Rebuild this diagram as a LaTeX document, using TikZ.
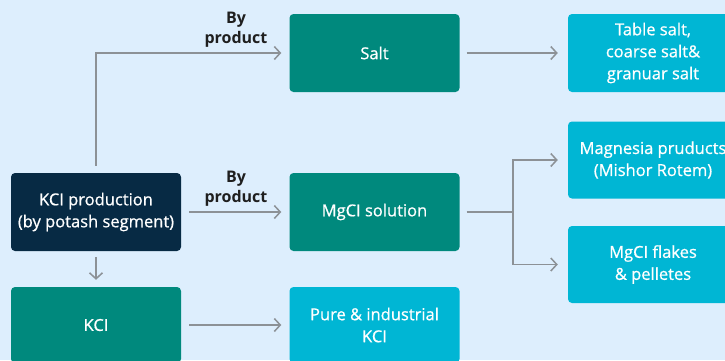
\documentclass[tikz,border=0pt]{standalone}
\usepackage{fontspec}
\setmainfont{Open Sans}
\newfontfamily\boxfont{Open Sans}[FakeBold=0.7]
\usetikzlibrary{arrows.meta}
\definecolor{bg}{HTML}{DDEEFD}
\definecolor{navy}{HTML}{072A44}
\definecolor{teal}{HTML}{00897D}
\definecolor{cyanbox}{HTML}{00B6D4}
\definecolor{arrowgray}{HTML}{8C9196}
\tikzset{
  box/.style={rounded corners=4pt, minimum width=170pt, minimum height=78pt, inner sep=0pt,
    text=white, align=center, font=\boxfont\fontsize{16.5}{22}\selectfont},
  navybox/.style={box, fill=navy},
  tealbox/.style={box, fill=teal},
  cyanb/.style={box, fill=cyanbox},
  conn/.style={draw=arrowgray, line width=1.5pt, -{Straight Barb[length=6pt,width=13pt,line width=1.5pt]}},
  plain/.style={draw=arrowgray, line width=1.5pt},
  lbl/.style={font=\fontsize{16}{20}\selectfont\bfseries, align=center, text=black!88}
}
\begin{document}
\begin{tikzpicture}[x=1pt,y=-1pt]
\useasboundingbox (0,0) rectangle (725,360);
\clip (0,0) rectangle (725,360);
\fill[bg] (0,0) rectangle (725,360);
\node[navybox] (prod) at (96,212) {KCI production\\(by potash segment)};
\node[tealbox, minimum height=76pt] (kcl) at (96,325) {KCI};
\node[tealbox] (salt) at (374.5,53) {Salt};
\node[tealbox] (mgcl) at (374.5,212) {MgCI solution};
\node[cyanb, minimum height=76pt] (pure) at (374.5,325) {Pure \& industrial\\KCI};
\node[cyanb] (table) at (653,53) {Table salt,\\coarse salt\&\\granuar salt};
\node[cyanb, minimum height=77pt] (magn) at (653,160) {Magnesia pruducts\\(Mishor Rotem)};
\node[cyanb, minimum height=77pt] (flakes) at (653,264.5) {MgCI flakes\\\& pelletes};
\node[lbl] (lab1) at (236,30) {By\\product};
\node[lbl] (lab2) at (236,189) {By\\product};
\coordinate (up) at ([yshift=7pt]prod.north);
\coordinate (split) at (513,212);
\draw[conn] (up) |- ([xshift=-8pt]salt.west);
\draw[conn] ([xshift=8pt]prod.east) -- ([xshift=-8pt]mgcl.west);
\draw[conn] ([yshift=-6pt]prod.south) -- ([yshift=7pt]kcl.north);
\draw[conn] ([xshift=8pt]kcl.east |- pure.west) -- ([xshift=-8pt]pure.west);
\draw[conn] ([xshift=7pt]salt.east) -- ([xshift=-10pt]table.west);
\draw[plain] ([xshift=7pt]mgcl.east) -- (split);
\draw[conn] (split) |- ([xshift=-10pt]magn.west);
\draw[conn] (split) |- ([xshift=-10pt]flakes.west);
\end{tikzpicture}
\end{document}
